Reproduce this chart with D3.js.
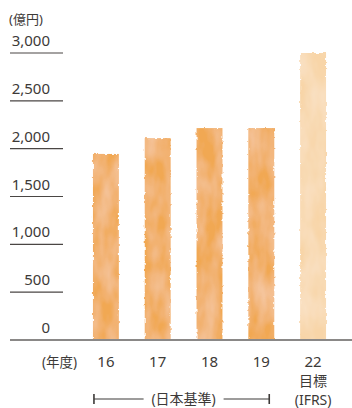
<!DOCTYPE html>
<html>
<head>
<meta charset="utf-8">
<script src="https://cdn.jsdelivr.net/npm/d3@7/dist/d3.min.js"></script>
<style>
  html, body { margin: 0; padding: 0; background: #fff; }
  svg { display: block; }
  text { font-family: "Noto Sans", "Noto Sans CJK JP", sans-serif; fill: #3d3a38; }
</style>
</head>
<body>
<div id="chart"></div>
<script>
// 売上高の推移（億円）
const years = ["16", "17", "18", "19", "22"];
const values = [1945, 2110, 2215, 2215, 3000];
const isTarget = [false, false, false, false, true];
const yTicks = [0, 500, 1000, 1500, 2000, 2500, 3000];
const unitLabel = "(億円)";
const yearLabel = "(年度)";
const targetLines = ["目標", "(IFRS)"];
const bracketLabel = "(日本基準)";

const W = 352, H = 408;
const svg = d3.select("#chart").append("svg").attr("width", W).attr("height", H);

// watercolor look: ragged edges, a soft fringe and faint washes
const defs = svg.append("defs");
const f = defs.append("filter").attr("id", "wc")
  .attr("x", "-20%").attr("y", "-5%").attr("width", "140%").attr("height", "110%");
f.append("feTurbulence").attr("type", "fractalNoise").attr("baseFrequency", "0.25")
  .attr("numOctaves", 2).attr("seed", 3).attr("result", "edge");
f.append("feDisplacementMap").attr("in", "SourceGraphic").attr("in2", "edge")
  .attr("scale", 3).attr("xChannelSelector", "R").attr("yChannelSelector", "G").attr("result", "shape");
f.append("feGaussianBlur").attr("in", "shape").attr("stdDeviation", 0.5).attr("result", "soft");
f.append("feTurbulence").attr("type", "fractalNoise").attr("baseFrequency", "0.06 0.025")
  .attr("numOctaves", 3).attr("seed", 11).attr("result", "grain");
f.append("feColorMatrix").attr("in", "grain").attr("type", "matrix")
  .attr("values", "0 0 0 0 1  0 0 0 0 1  0 0 0 0 1  0.45 0 0 0 -0.13").attr("result", "light");
f.append("feComposite").attr("in", "light").attr("in2", "soft").attr("operator", "in").attr("result", "lightIn");
const fm = f.append("feMerge");
fm.append("feMergeNode").attr("in", "soft");
fm.append("feMergeNode").attr("in", "lightIn");

const x = d3.scaleBand().domain(years).range([80, 339]).paddingInner(0.5).paddingOuter(0.25);
const y = d3.scaleLinear().domain([0, 3000]).range([340, 53]);

// bars
svg.append("g").selectAll("rect").data(years).join("rect")
  .attr("x", d => x(d))
  .attr("width", x.bandwidth())
  .attr("y", (d, i) => y(values[i]))
  .attr("height", (d, i) => y(0) - y(values[i]))
  .attr("fill", (d, i) => isTarget[i] ? "#f8d5a8" : "#f1a852")
  .attr("filter", "url(#wc)");

// y axis: short rules under each label
const yAxis = svg.append("g");
yAxis.selectAll("line").data(yTicks.filter(t => t > 0)).join("line")
  .attr("x1", 10).attr("x2", 63)
  .attr("y1", d => y(d)).attr("y2", d => y(d))
  .attr("stroke", "#4a4644").attr("stroke-width", 1.2);
yAxis.selectAll("text").data(yTicks).join("text")
  .attr("x", 50).attr("y", d => y(d) - 7)
  .attr("text-anchor", "end").attr("font-size", 15)
  .text(d => d3.format(",")(d));

svg.append("text").attr("x", 9).attr("y", 24).attr("font-size", 13).text(unitLabel);

// baseline
svg.append("line").attr("x1", 10).attr("x2", W).attr("y1", y(0)).attr("y2", y(0))
  .attr("stroke", "#8a8887").attr("stroke-width", 2);

// x labels
svg.append("text").attr("x", 77).attr("y", 367).attr("text-anchor", "end")
  .attr("font-size", 13.5).text(yearLabel);
svg.append("g").selectAll("text").data(years).join("text")
  .attr("x", d => x(d) + x.bandwidth() / 2).attr("y", 367)
  .attr("text-anchor", "middle").attr("font-size", 15).text(d => d);
const cx22 = x("22") + x.bandwidth() / 2;
svg.append("text").attr("x", cx22).attr("y", 386).attr("text-anchor", "middle")
  .attr("font-size", 14).text(targetLines[0]);
svg.append("text").attr("x", cx22).attr("y", 405).attr("text-anchor", "middle")
  .attr("font-size", 14).text(targetLines[1]);

// bracket under the Japanese-GAAP years
const bx0 = x("16") + 1, bx1 = x("19") + x.bandwidth() - 5, by = 399;
const bmid = (bx0 + bx1) / 2;
const br = svg.append("g").attr("stroke", "#3d3a38").attr("stroke-width", 1.2);
br.append("line").attr("x1", bx0).attr("x2", bmid - 38).attr("y1", by).attr("y2", by);
br.append("line").attr("x1", bmid + 42).attr("x2", bx1).attr("y1", by).attr("y2", by);
br.append("line").attr("x1", bx0).attr("x2", bx0).attr("y1", by - 5).attr("y2", by + 5).attr("stroke-width", 1.6);
br.append("line").attr("x1", bx1).attr("x2", bx1).attr("y1", by - 5).attr("y2", by + 5).attr("stroke-width", 1.6);
svg.append("text").attr("x", bmid + 2).attr("y", 404).attr("text-anchor", "middle")
  .attr("font-size", 14).text(bracketLabel);
</script>
</body>
</html>
